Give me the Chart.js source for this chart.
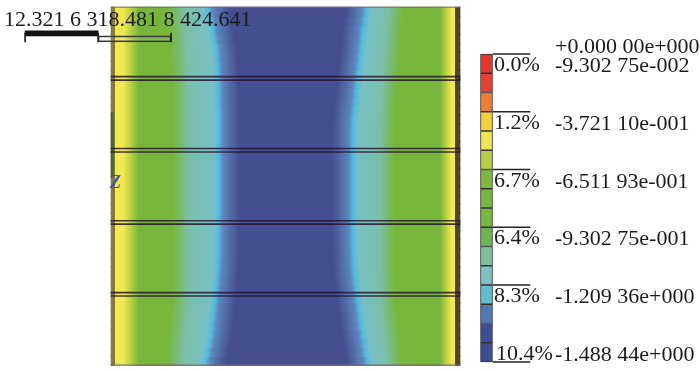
<!DOCTYPE html>
<html>
<head>
<meta charset="utf-8">
<title>Contour plot</title>
<script src="https://cdn.jsdelivr.net/npm/chart.js@4/dist/chart.umd.min.js"></script>
<style>
  html, body { margin: 0; padding: 0; background: #fff; }
  canvas { display: block; filter: blur(0.4px); }
</style>
</head>
<body>
<canvas id="contour" width="700" height="372"></canvas>
<script>
// plate rows, height in mm from the bottom edge
const rowHeights = [13,39,65,91,117,143,169,195,221,247,273,299,325,351,377,403,429,455,481,507,533,559,585,611,637,663,689,715,741,767,793,819,845,871,897,923,949,975,1001,1027];

const cyanLeft = [270,276,281,285,288,291,294,297,300,302,304,305,307,307,307,308,308,308,308,308,308,308,308,308,308,308,308,308,308,307,307,306,305,304,302,300,295,291,285,277];
const cyanRight = [739,734,730,726,721,718,714,710,707,704,701,699,698,697,697,697,697,697,697,697,697,697,697,697,697,697,697,698,701,704,707,710,712,715,718,721,724,727,731,736];
const greenLeft = [157,158,160,162,164,166,168,170,171,172,172,172,172,172,172,172,172,172,172,172,172,172,172,172,172,172,172,172,172,172,171,170,169,168,167,166,165,164,162,160];
const greenRight = [841,838,835,832,829,827,825,823,822,821,820,820,820,820,820,820,820,820,820,820,820,820,820,820,820,820,820,821,822,823,825,827,829,831,833,835,837,839,841,843];

// double lines across the plate, mm
const seamHeights = [839,829,630,620,420,410,211,201];

// colour bar
const bandLevels = [-0.0465,-0.1395,-0.2326,-0.3256,-0.4186,-0.5116,-0.6047,-0.6977,-0.7907,-0.8837,-0.9767,-1.0698,-1.1628,-1.2558,-1.3488,-1.4419];
const bandColors = ['#e8332e','#e8402f','#f08030','#f5ce3a','#ede650','#b5ce45','#7db93c','#76b83a','#76b83a','#6db550','#7cc09c','#7cc2be','#5ebdd0','#5078b4','#3f4d94','#3f4d94'];
const tickLevels = [0,-0.2791,-0.5581,-0.8372,-1.1163,-1.48844];

const valueLevels = [0,-0.0930275,-0.37211,-0.651193,-0.930275,-1.20936,-1.48844];
const valueLabels = ['+0.000 00e+000','-9.302 75e-002','-3.721 10e-001','-6.511 93e-001','-9.302 75e-001','-1.209 36e+000','-1.488 44e+000'];
const percentLevels = [-0.0930275,-0.37211,-0.651193,-0.930275,-1.20936,-1.48844];
const percentLabels = ['0.0%','1.2%','6.7%','6.4%','8.3%','10.4%'];

// scale bar, mm from its own start
const scaleStops = [0,212.32,424.641];
const scaleText = '12.321 6 318.481 8 424.641';

const yellow = '#f3e94f', green = '#77b63a', tealGreen = '#7bbfa8', teal = '#76c0c4';
const cyan = '#52bbe2', midBlue = '#5c86bc', deepBlue = '#444e90';
const edgeLeft = '#8a7a3e', edgeRight = '#4d4622';
const plateStart = -6, plateEnd = 1009, scaleStart = -256;

function rowGradient(ctx) {
  const i = ctx.dataIndex;
  const x = ctx.chart.scales.x;
  const left = x.getPixelForValue(plateStart);
  const right = x.getPixelForValue(plateEnd);
  // scale has no size yet on the first pass
  if (!isFinite(left) || !isFinite(right)) return green;
  const g = ctx.chart.ctx.createLinearGradient(left, 0, right, 0);
  const stop = (mm, color) => g.addColorStop((mm - plateStart) / (plateEnd - plateStart), color);
  stop(plateStart, edgeLeft);
  stop(5, edgeLeft);
  stop(6, yellow);
  stop(30, yellow);
  stop(75, green);
  stop(greenLeft[i], green);
  stop(greenLeft[i] + 50, tealGreen);
  stop(cyanLeft[i] - 15, teal);
  stop(cyanLeft[i], cyan);
  stop(cyanLeft[i] + 12, midBlue);
  stop(cyanLeft[i] + 60, deepBlue);
  stop(cyanRight[i] - 60, deepBlue);
  stop(cyanRight[i] - 12, midBlue);
  stop(cyanRight[i], cyan);
  stop(cyanRight[i] + 15, teal);
  stop(greenRight[i] - 45, tealGreen);
  stop(greenRight[i], green);
  stop(951, green);
  stop(985, yellow);
  stop(994, yellow);
  stop(995, edgeRight);
  stop(plateEnd, edgeRight);
  return g;
}

const textPlugin = {
  id: 'textPlugin',
  afterDraw(chart) {
    const c = chart.ctx;
    const yBar = chart.scales.yBar;
    c.save();
    c.font = '22px "Liberation Serif"';
    c.fillStyle = '#1c1c1c';
    c.textBaseline = 'middle';
    valueLabels.forEach((t, i) => c.fillText(t, 555, yBar.getPixelForValue(valueLevels[i]) - 7));
    percentLabels.forEach((t, i) => c.fillText(t, i === 5 ? 496 : 494, yBar.getPixelForValue(percentLevels[i]) - 8));
    c.fillText(scaleText, 4, 20);
    c.font = 'italic bold 18px "Liberation Serif"';
    c.fillStyle = '#4455aa';
    c.fillText('Z', 110, 183);
    c.restore();
  }
};

const scaleOrigin = s => scaleStart + s;

new Chart(document.getElementById('contour'), {
  type: 'bar',
  plugins: [textPlugin],
  data: {
    datasets: [
      // scale bar ticks
      { data: scaleStops.map(s => ({ x: [scaleOrigin(s) - 1.5, scaleOrigin(s) + 1.5], y: 953 })), backgroundColor: '#222', barThickness: 9 },
      // scale bar, black half and open half
      { data: [{ x: [scaleOrigin(scaleStops[0]), scaleOrigin(scaleStops[1])], y: 965 }], backgroundColor: '#111', barThickness: 5 },
      { data: [{ x: [scaleOrigin(scaleStops[1]), scaleOrigin(scaleStops[2])], y: 949 }], backgroundColor: 'rgba(255,255,255,0.08)', borderColor: '#333', borderWidth: 1, borderSkipped: false, barThickness: 6 },
      // seams
      { data: seamHeights.map(h => ({ x: [-6, 1009], y: h })), backgroundColor: 'rgba(38,22,48,0.85)', barThickness: 1 },
      // top and bottom edge
      { data: [0, 1041].map(h => ({ x: [-6, 1009], y: h })), backgroundColor: 'rgba(120,110,110,0.7)', barThickness: 1 },
      // axis stub
      { data: [{ x: [-6, 1], y: 640 }], backgroundColor: '#3e6b3a', barThickness: 65 },
      // plate
      { data: rowHeights.map(h => ({ x: [plateStart, plateEnd], y: h })), backgroundColor: rowGradient, barThickness: 10 },
      // colour bar ticks
      { xAxisID: 'xBar', yAxisID: 'yBar', data: tickLevels.map(v => ({ x: [493, 530], y: v })), backgroundColor: '#222', barThickness: 1 },
      // colour bar
      { xAxisID: 'xBar', yAxisID: 'yBar', data: bandLevels.map(v => ({ x: [480.5, 492.5], y: v })), backgroundColor: bandColors, borderColor: '#333', borderWidth: 1, borderSkipped: false, barThickness: 19.25 }
    ]
  },
  options: {
    indexAxis: 'y',
    responsive: false,
    animation: false,
    grouped: false,
    layout: { padding: 0 },
    plugins: { legend: { display: false }, tooltip: { enabled: false } },
    scales: {
      x: { type: 'linear', display: false, min: -329, max: 1707 },
      y: { type: 'linear', display: false, offset: false, min: -20, max: 1062 },
      xBar: { type: 'linear', display: false, min: 0, max: 700 },
      yBar: { type: 'linear', display: false, offset: false, min: -1.5368, max: 0.261 }
    }
  }
});
</script>
</body>
</html>
